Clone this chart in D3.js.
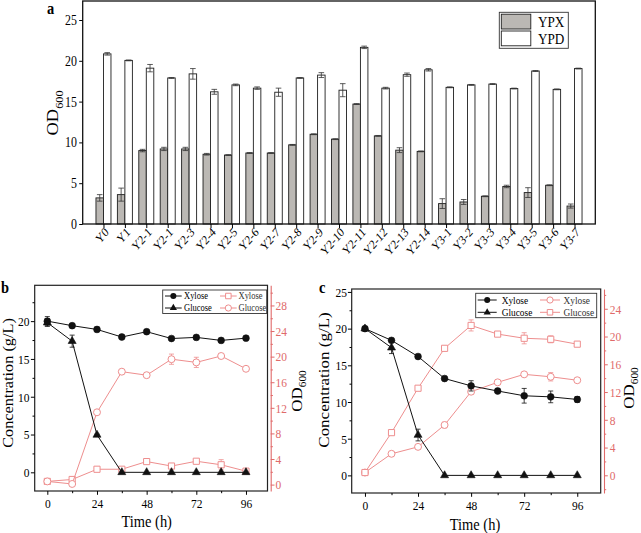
<!DOCTYPE html>
<html><head><meta charset="utf-8">
<script src="https://cdn.jsdelivr.net/npm/d3@7"></script>
<style>
body{margin:0;background:#fff}
svg{display:block}
text{font-family:"Liberation Serif","Times New Roman",serif}
</style>
</head><body>
<svg id="chart" width="641" height="533"></svg>
<script>
// ---------------- DATA ----------------
const catsA = ["Y0","Y1","Y2-1","Y2-1","Y2-3","Y2-4","Y2-5","Y2-6","Y2-7","Y2-8","Y2-9","Y2-10","Y2-11","Y2-12","Y2-13","Y2-14","Y3-1","Y3-2","Y3-3","Y3-4","Y3-5","Y3-6","Y3-7"];
const ypx    = [3.2,3.6,9.0,9.2,9.2,8.55,8.45,8.7,8.7,9.7,11.0,10.4,14.7,10.8,9.05,8.9,2.5,2.7,3.4,4.6,3.85,4.75,2.2];
const ypxErr = [0.4,0.8,0.15,0.2,0.2,0.1,0.05,0.05,0.05,0.05,0.05,0.05,0.05,0.05,0.3,0.05,0.6,0.3,0.05,0.15,0.6,0.05,0.25];
const ypd    = [20.85,20.05,19.1,17.9,18.4,16.2,17.05,16.65,16.15,17.9,18.25,16.4,21.65,16.65,18.3,18.9,16.75,17.05,17.15,16.6,18.75,16.5,19.05];
const ypdErr = [0.15,0.05,0.45,0.05,0.65,0.3,0.1,0.15,0.5,0.05,0.3,0.8,0.15,0.1,0.2,0.15,0.05,0.05,0.05,0.05,0.05,0.05,0.05];
const ticksA = [0,5,10,15,20,25];
const seriesA = ["YPX","YPD"];

const timeH = [0,12,24,36,48,60,72,84,96];
const ticksTime = [0,24,48,72,96];
const minorTime = [12,36,60,84];

// panel b
const bXylConc    = [20.0,19.4,18.9,17.9,18.6,17.7,17.85,17.45,17.75];
const bXylConcErr = [0.6,0.1,0.3,0.1,0.1,0.1,0.1,0.1,0.1];
const bGluConc    = [19.8,17.35,4.95,0,0,0,0,0,0];
const bGluConcErr = [0.5,0.8,0.1,0,0,0,0,0,0];
const bXylOD      = [0.5,0.8,2.4,2.4,3.6,2.9,3.65,3.1,2.1];
const bXylODErr   = [0.1,0.4,0.1,0.2,0.1,0.1,0.1,0.8,0.1];
const bGluOD      = [0.5,0.1,11.3,17.65,17.1,19.6,19.1,20.1,18.1];
const bGluODErr   = [0.1,0.1,0.3,0.2,0.1,0.8,0.8,0.4,0.1];
const ticksConcB = [0,5,10,15,20];
const minorConcB = [2.5,7.5,12.5,17.5,22.5];
const ticksODB = [0,4,8,12,16,20,24,28];
const minorODB = [2,6,10,14,18,22,26,30];

// panel c
const cXylConc    = [20.0,18.4,16.2,13.2,12.2,11.5,10.85,10.7,10.35];
const cXylConcErr = [0.3,0.1,0.3,0.3,0.7,0.1,1.0,0.8,0.4];
const cGluConc    = [20.0,17.4,5.5,0,0,0,0,0,0];
const cGluConcErr = [0.2,0.8,0.8,0,0,0,0,0,0];
const cXylOD      = [0.4,3.1,4.1,7.25,12.05,13.4,14.55,14.2,13.7];
const cXylODErr   = [0.1,0.1,0.2,0.4,0.4,0.1,0.1,0.6,0.1];
const cGluOD      = [0.4,6.15,12.55,18.3,21.6,20.35,19.75,19.6,18.9];
const cGluODErr   = [0.1,0.1,0.1,0.1,0.8,0.1,0.8,0.5,0.1];
const ticksConcC = [0,5,10,15,20,25];
const minorConcC = [2.5,7.5,12.5,17.5,22.5];
const ticksODC = [0,4,8,12,16,20,24];
const minorODC = [-2,2,6,10,14,18,22,26];

// ---------------- STYLE ----------------
const FONT = '"Liberation Serif","Times New Roman",serif';
const SX = 0.85;          // horizontal squeeze of the original figure's text
const RED = "#ee8e8e";
const REDAX = "#e06a6a";

const svg = d3.select("#chart");

function label(parent, x, y, str, size, opt = {}) {
  const t = parent.append("text")
    .attr("transform", `translate(${x},${y}) scale(${SX},1)` + (opt.rotate ? ` rotate(${opt.rotate})` : ""))
    .attr("font-size", size)
    .attr("text-anchor", opt.anchor || "start")
    .attr("fill", opt.fill || "#000")
    .attr("font-weight", opt.weight || "normal");
  t.text(str);
  return t;
}
function odTitle(parent, x, y, size, fill) {
  const t = parent.append("text")
    .attr("transform", `translate(${x},${y}) scale(${SX},1) rotate(-90)`)
    .attr("font-size", size).attr("text-anchor", "middle").attr("fill", fill || "#000");
  t.append("tspan").text("OD");
  t.append("tspan").attr("font-size", size * 0.66).attr("dy", size * 0.3).text("600");
}
function styleAxis(g, size, color) {
  g.attr("font-family", FONT).attr("font-size", size);
  g.selectAll("line").attr("stroke", color || "#000");
  g.selectAll("path.domain").attr("stroke", color || "#000");
  g.selectAll("text").attr("fill", color || "#000").each(function () {
    const x = +this.getAttribute("x") || 0;
    d3.select(this).attr("x", x / SX).attr("transform", `scale(${SX},1)`);
  });
}

// ---------------- PANEL A ----------------
(function () {
  const g = svg.append("g");
  const L = 82.7, R = 595.3, T = 1, B = 224;
  const xA = d3.scalePoint().domain(d3.range(catsA.length)).range([L, R]).padding(0.97);
  const yA = d3.scaleLinear().domain([0, 27.33]).range([B, T]);
  const BW = 7.5;

  g.selectAll("rect.ypx").data(ypx).join("rect").attr("class", "ypx")
    .attr("x", (d, i) => xA(i) - BW).attr("y", d => yA(d))
    .attr("width", BW).attr("height", d => yA(0) - yA(d))
    .attr("fill", "#bbb8b4").attr("stroke", "#1e1e1e").attr("stroke-width", 0.9);
  g.selectAll("rect.ypd").data(ypd).join("rect").attr("class", "ypd")
    .attr("x", (d, i) => xA(i)).attr("y", d => yA(d))
    .attr("width", BW).attr("height", d => yA(0) - yA(d))
    .attr("fill", "#fff").attr("stroke", "#1e1e1e").attr("stroke-width", 0.9);

  function errBars(vals, errs, off) {
    const eg = g.append("g").attr("stroke", "#333").attr("stroke-width", 0.8);
    vals.forEach((v, i) => {
      const cx = xA(i) + off, e = errs[i];
      eg.append("line").attr("x1", cx).attr("x2", cx).attr("y1", yA(v - e)).attr("y2", yA(v + e));
      eg.append("line").attr("x1", cx - 2.8).attr("x2", cx + 2.8).attr("y1", yA(v - e)).attr("y2", yA(v - e));
      eg.append("line").attr("x1", cx - 2.8).attr("x2", cx + 2.8).attr("y1", yA(v + e)).attr("y2", yA(v + e));
    });
  }
  errBars(ypx, ypxErr, -BW / 2);
  errBars(ypd, ypdErr, BW / 2);

  g.append("rect").attr("x", L).attr("y", T).attr("width", R - L).attr("height", B - T)
    .attr("fill", "none").attr("stroke", "#111").attr("stroke-width", 1.3);

  const ay = g.append("g").attr("transform", `translate(${L},0)`)
    .call(d3.axisLeft(yA).tickValues(ticksA).tickSize(3.5).tickSizeOuter(0).tickPadding(2.2));
  ay.select(".domain").remove();
  styleAxis(ay, 14);

  const ax = g.append("g").attr("transform", `translate(0,${B})`)
    .call(d3.axisBottom(xA).tickSize(4).tickSizeOuter(0).tickFormat(""));
  ax.select(".domain").remove();
  styleAxis(ax, 13);
  catsA.forEach((c, i) => {
    label(g, xA(i) + 6, 233, c, 13, { anchor: "end", rotate: -45 });
  });

  odTitle(g, 58, 113, 18.5);
  label(g, 47, 14, "a", 17, { weight: "bold" });

  // legend
  const lg = g.append("g");
  lg.append("rect").attr("x", 499.3).attr("y", 12.3).attr("width", 69).attr("height", 36)
    .attr("fill", "#fff").attr("stroke", "#333").attr("stroke-width", 0.9);
  const fills = ["#bbb8b4", "#fff"];
  seriesA.forEach((s, i) => {
    lg.append("rect").attr("x", 501.3).attr("y", 14.2 + i * 16.8).attr("width", 29.5).attr("height", 14.8)
      .attr("fill", fills[i]).attr("stroke", "#1e1e1e").attr("stroke-width", 0.9);
    label(lg, 538, 27.3 + i * 16.5, s, 15.5);
  });
})();

// ---------------- PANELS B & C ----------------
function drawTime(cfg) {
  const g = svg.append("g");
  const x = d3.scaleLinear().domain(cfg.xDom).range([cfg.L, cfg.R]);
  const yL = d3.scaleLinear().domain(cfg.yLDom).range([cfg.B, cfg.T]);
  const yR = d3.scaleLinear().domain(cfg.yRDom).range([cfg.B, cfg.T]);

  g.append("rect").attr("x", cfg.L).attr("y", cfg.T).attr("width", cfg.R - cfg.L).attr("height", cfg.B - cfg.T)
    .attr("fill", "none").attr("stroke", "#222").attr("stroke-width", 1.2);

  const gl = g.append("g").attr("transform", `translate(${cfg.L},0)`)
    .call(d3.axisLeft(yL).tickValues(cfg.ticksL).tickSize(3.8).tickSizeOuter(0).tickPadding(cfg.padL));
  gl.select(".domain").remove();
  styleAxis(gl, 13.5);
  const glm = g.append("g").attr("transform", `translate(${cfg.L},0)`)
    .call(d3.axisLeft(yL).tickValues(cfg.minorL).tickSize(2.2).tickFormat(""));
  glm.select(".domain").remove(); styleAxis(glm, 10);

  const gb = g.append("g").attr("transform", `translate(0,${cfg.B})`)
    .call(d3.axisBottom(x).tickValues(ticksTime).tickSize(3.8).tickSizeOuter(0).tickPadding(4));
  gb.select(".domain").remove();
  styleAxis(gb, 13.5);
  const gbm = g.append("g").attr("transform", `translate(0,${cfg.B})`)
    .call(d3.axisBottom(x).tickValues(minorTime).tickSize(2.2).tickFormat(""));
  gbm.select(".domain").remove(); styleAxis(gbm, 10);

  const gr = g.append("g").attr("transform", `translate(${cfg.redX},0)`)
    .call(d3.axisRight(yR).tickValues(cfg.ticksR).tickSize(3.8).tickSizeOuter(0).tickPadding(cfg.padR));
  styleAxis(gr, 13.5, REDAX);
  gr.select(".domain").attr("stroke-width", 1.1);
  const grm = g.append("g").attr("transform", `translate(${cfg.redX},0)`)
    .call(d3.axisRight(yR).tickValues(cfg.minorR).tickSize(2.2).tickFormat(""));
  grm.select(".domain").remove(); styleAxis(grm, 10, REDAX);

  function series(vals, errs, yS, color, sym, filled) {
    const pts = timeH.map((t, i) => ({ t, v: vals[i], e: errs[i] }));
    const sg = g.append("g");
    sg.append("path").datum(pts)
      .attr("d", d3.line().x(d => x(d.t)).y(d => yS(d.v)))
      .attr("fill", "none").attr("stroke", color).attr("stroke-width", 1);
    const eg = sg.append("g").attr("stroke", color).attr("stroke-width", 0.8);
    pts.filter(d => d.e > 0).forEach(d => {
      const cx = x(d.t), y1 = yS(d.v - d.e), y2 = yS(d.v + d.e);
      eg.append("line").attr("x1", cx).attr("x2", cx).attr("y1", y1).attr("y2", y2);
      eg.append("line").attr("x1", cx - 2.5).attr("x2", cx + 2.5).attr("y1", y1).attr("y2", y1);
      eg.append("line").attr("x1", cx - 2.5).attr("x2", cx + 2.5).attr("y1", y2).attr("y2", y2);
    });
    sg.selectAll("path.m").data(pts).join("path").attr("class", "m")
      .attr("transform", d => `translate(${x(d.t)},${yS(d.v)})`)
      .attr("d", d3.symbol().type(sym.type).size(sym.size))
      .attr("fill", filled ? color : "#fff").attr("stroke", color).attr("stroke-width", filled ? 0.6 : 1);
  }
  cfg.od.forEach(s => series(s.vals, s.errs, yR, RED, s.sym, false));
  cfg.conc.forEach(s => series(s.vals, s.errs, yL, "#111", s.sym, true));

  // legend
  const Lg = cfg.legend;
  const lg = g.append("g");
  lg.append("rect").attr("x", Lg.x).attr("y", Lg.y).attr("width", Lg.w).attr("height", Lg.h)
    .attr("fill", "#fff").attr("stroke", "#333").attr("stroke-width", 0.9);
  [0, 1].forEach(r => {
    const yy = Lg.rows[r];
    const bs = cfg.conc[r], rs = cfg.od[r];
    lg.append("line").attr("x1", Lg.bx[0]).attr("x2", Lg.bx[1]).attr("y1", yy).attr("y2", yy).attr("stroke", "#111");
    lg.append("path").attr("transform", `translate(${(Lg.bx[0] + Lg.bx[1]) / 2},${yy})`)
      .attr("d", d3.symbol().type(bs.sym.type).size(bs.sym.size * 0.8)).attr("fill", "#111");
    label(lg, Lg.btx, yy + Lg.fs * 0.33, bs.name, Lg.fs);
    lg.append("line").attr("x1", Lg.rx[0]).attr("x2", Lg.rx[1]).attr("y1", yy).attr("y2", yy).attr("stroke", RED);
    lg.append("path").attr("transform", `translate(${(Lg.rx[0] + Lg.rx[1]) / 2},${yy})`)
      .attr("d", d3.symbol().type(rs.sym.type).size(rs.sym.size * 0.8)).attr("fill", "#fff").attr("stroke", RED);
    label(lg, Lg.rtx, yy + Lg.fs * 0.33, rs.name, Lg.fs, { fill: "#333" });
  });

  // titles
  label(g, cfg.timeX, cfg.timeY, "Time (h)", 17, { anchor: "middle" });
  label(g, cfg.concX, cfg.concY, "Concentration (g/L)", cfg.concFs, { anchor: "middle", rotate: -90 });
  odTitle(g, cfg.odX, cfg.odY, 17);
  label(g, cfg.letterX, cfg.letterY, cfg.letter, 17, { weight: "bold" });
}

const CIRC = { type: d3.symbolCircle, size: 36 };
const TRI = { type: d3.symbolTriangle, size: 28 };
const SQ = { type: d3.symbolSquare, size: 38 };
const OCIRC = { type: d3.symbolCircle, size: 38 };

drawTime({
  L: 34.7, R: 267.5, T: 285.3, B: 491, redX: 270.7,
  xDom: [-6.1, 106.4], yLDom: [-2.47, 24.74], yRDom: [-1.0, 31.15],
  ticksL: ticksConcB, minorL: minorConcB, ticksR: ticksODB, minorR: minorODB,
  padL: 1.5, padR: 1,
  conc: [
    { name: "Xylose", vals: bXylConc, errs: bXylConcErr, sym: CIRC },
    { name: "Glucose", vals: bGluConc, errs: bGluConcErr, sym: TRI }
  ],
  od: [
    { name: "Xylose", vals: bXylOD, errs: bXylODErr, sym: SQ },
    { name: "Glucose", vals: bGluOD, errs: bGluODErr, sym: OCIRC }
  ],
  legend: { x: 162.7, y: 290, w: 104, h: 23.5, rows: [296, 308], bx: [165, 181.7], btx: 184, rx: [220, 236.7], rtx: 238.5, fs: 10 },
  timeX: 146.7, timeY: 526.8, concX: 13, concY: 383, concFs: 16.3, odX: 302, odY: 391,
  letter: "b", letterX: 1, letterY: 293
});

drawTime({
  L: 351.7, R: 600.7, T: 289, B: 493, redX: 604,
  xDom: [-6.0, 106.6], yLDom: [-2.4, 25.4], yRDom: [-2.55, 26.85],
  ticksL: ticksConcC, minorL: minorConcC, ticksR: ticksODC, minorR: minorODC,
  padL: 1, padR: 2,
  conc: [
    { name: "Xylose", vals: cXylConc, errs: cXylConcErr, sym: CIRC },
    { name: "Glucose", vals: cGluConc, errs: cGluConcErr, sym: TRI }
  ],
  od: [
    { name: "Xylose", vals: cXylOD, errs: cXylODErr, sym: OCIRC },
    { name: "Glucose", vals: cGluOD, errs: cGluODErr, sym: SQ }
  ],
  legend: { x: 475.7, y: 293.3, w: 121, h: 24.4, rows: [300, 312.3], bx: [477.7, 496.7], btx: 501.7, rx: [540, 560], rtx: 563.5, fs: 11 },
  timeX: 475, timeY: 530, concX: 329, concY: 380, concFs: 17, odX: 634, odY: 388,
  letter: "c", letterX: 319, letterY: 293
});
</script>
</body></html>
